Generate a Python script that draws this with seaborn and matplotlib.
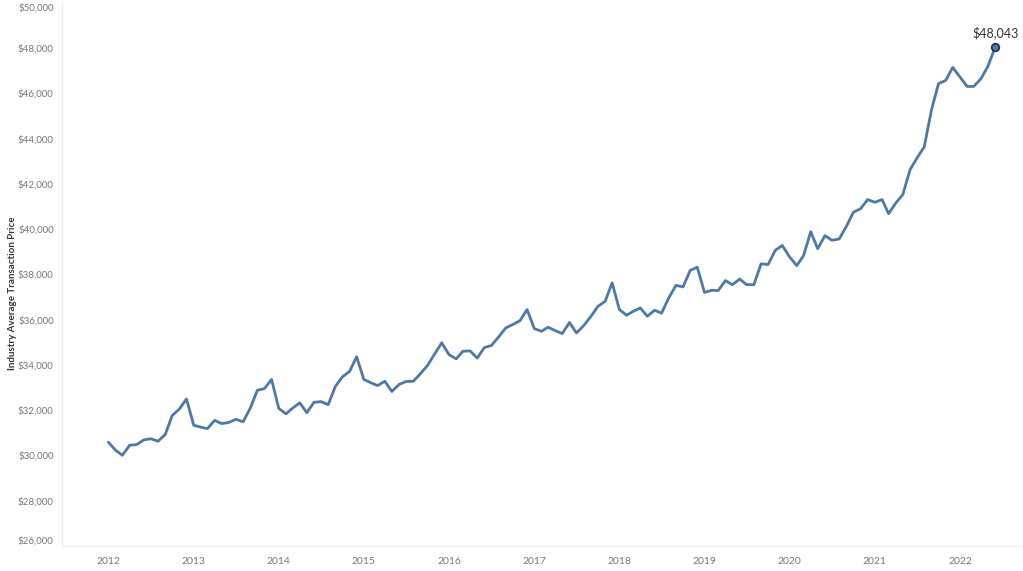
import seaborn as sb
import matplotlib.pyplot as plt
import matplotlib as mpl
import matplotlib.dates as mdates
import matplotlib.ticker as mticker
import pandas as pd

start_month = '2012-01-01'
prices = [
    30590, 30230, 30010, 30450, 30480, 30690, 30740, 30630, 30930, 31770, 32060, 32500,
    31340, 31250, 31190, 31550, 31410, 31460, 31600, 31490, 32100, 32880, 32960, 33360,
    32080, 31840, 32090, 32330, 31890, 32350, 32380, 32250, 33060, 33475, 33720, 34360,
    33360, 33210, 33090, 33280, 32830, 33140, 33270, 33280, 33620, 33980, 34490, 34980,
    34460, 34270, 34610, 34620, 34300, 34770, 34860, 35240, 35640, 35790, 35960, 36450,
    35610, 35490, 35670, 35520, 35390, 35880, 35415, 35740, 36150, 36590, 36815, 37630,
    36450, 36200, 36370, 36520, 36150, 36420, 36290, 36970, 37520, 37450, 38180, 38320,
    37210, 37300, 37290, 37730, 37550, 37800, 37550, 37550, 38470, 38440, 39070, 39280,
    38780, 38390, 38830, 39890, 39140, 39720, 39510, 39570, 40130, 40750, 40910, 41310,
    41190, 41310, 40690, 41160, 41530, 42630, 43150, 43640, 45280, 46430, 46580, 47150,
    46730, 46310, 46310, 46650, 47200, 48043,
]
y_ticks = list(range(26000, 50001, 2000))
y_title = 'Industry Average Transaction Price'

df = pd.DataFrame({
    'month': pd.date_range(start_month, periods=len(prices), freq='MS'),
    'price': prices,
})

mpl.rcParams['figure.dpi'] = 100
sb.set_style("white")
plt.rcParams['font.family'] = ['Lato', 'DejaVu Sans']

fig = plt.figure(figsize=(10.23, 5.71))
ax = fig.add_axes([0.0606, 0.0438, 0.937, 0.951])

line_color = '#4e79a7'
sb.lineplot(data=df, x='month', y='price', color=line_color, linewidth=2.0, ax=ax)

# highlight the latest point
last = df.iloc[-1]
ax.scatter([last['month']], [last['price']], s=30, color=line_color,
           edgecolor='#1f2d3d', linewidth=1.2, zorder=5)
ax.annotate('${:,.0f}'.format(last['price']), (last['month'], last['price']),
            xytext=(0, 6), textcoords='offset points', ha='center', va='bottom',
            fontsize=9, color='#333333')

ax.set_ylim(26000, 50000)
ax.set_xlim(pd.Timestamp('2011-06-16'), pd.Timestamp('2022-09-18'))
ax.set_yticks(y_ticks)
ax.yaxis.set_major_formatter(mticker.FuncFormatter(lambda v, p: '${:,.0f}'.format(v)))
ax.xaxis.set_major_locator(mdates.YearLocator())
ax.xaxis.set_major_formatter(mdates.DateFormatter('%Y'))

ax.tick_params(axis='y', length=3, color='#e6e6e6', labelsize=7,
               labelcolor='#777777', pad=3)
ax.tick_params(axis='x', length=0, labelsize=7.5, labelcolor='#777777', pad=8)
labels = ax.get_yticklabels()
labels[0].set_va('bottom')
labels[-1].set_va('top')

for side in ['top', 'right']:
    ax.spines[side].set_visible(False)
for side in ['left', 'bottom']:
    ax.spines[side].set_color('#ececec')
    ax.spines[side].set_linewidth(0.8)

ax.set_xlabel('')
ax.set_ylabel(y_title, fontsize=7, fontweight='bold', color='#333333')
ax.yaxis.set_label_coords(-0.047, 0.466)

plt.savefig('out.png', dpi=100)
plt.close()
